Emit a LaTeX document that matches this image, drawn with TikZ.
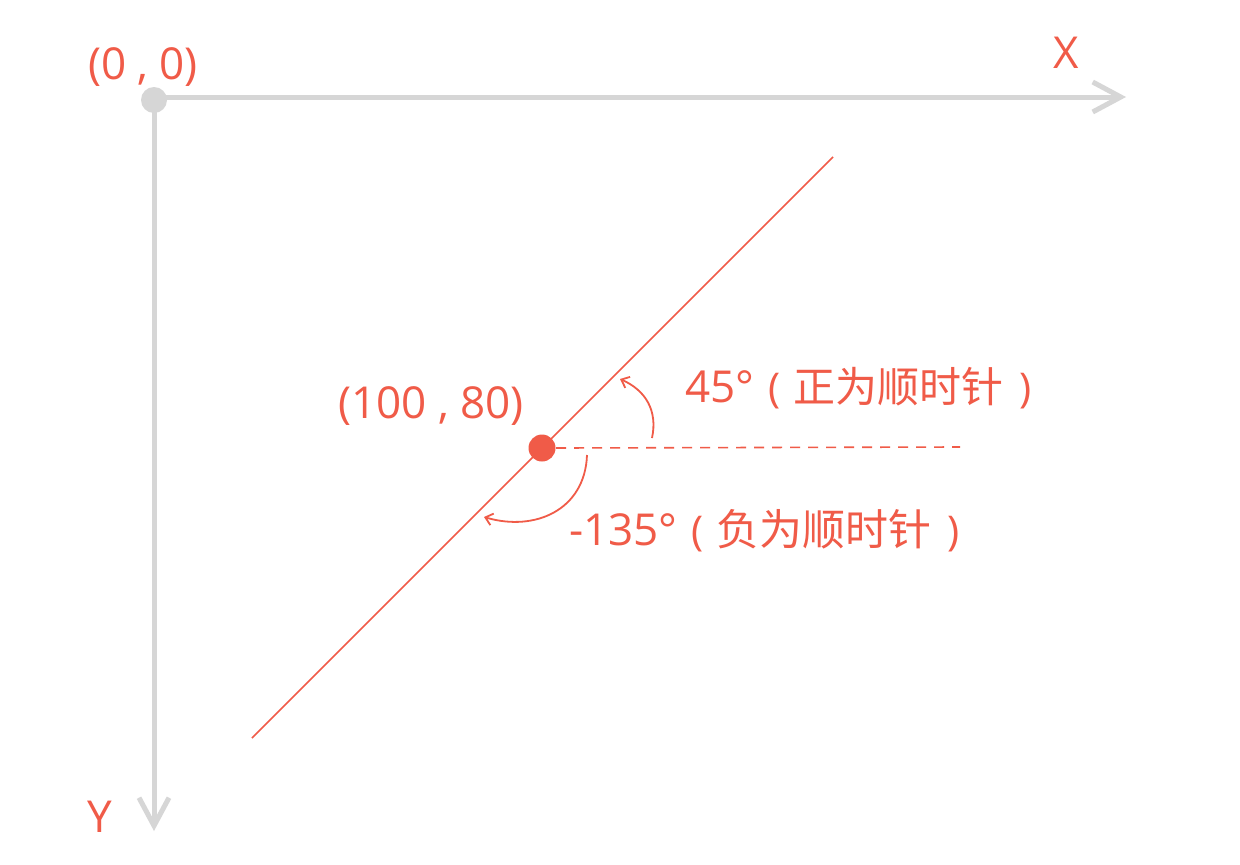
\documentclass[tikz,border=0pt]{standalone}
\usepackage{fontspec}
\setmainfont{Open Sans}
\newfontfamily\cjk{Noto Sans CJK SC}
\usetikzlibrary{arrows.meta}
\definecolor{rd}{HTML}{F05B48}
\definecolor{gr}{HTML}{D6D6D6}
\newcommand{\lp}{\hspace{14pt}{\fontsize{41}{46}\selectfont (}\hspace{13pt}}
\newcommand{\rp}{\hspace{16pt}{\fontsize{41}{46}\selectfont )}}
\begin{document}
\begin{tikzpicture}[x=1pt,y=-1pt,
  axis/.style={draw=gr,line width=5pt,-{Straight Barb[length=28pt,width=30pt,line width=5pt]}},
  lbl/.style={text=rd,font=\fontsize{44}{46}\selectfont,inner sep=0pt},
  rdline/.style={draw=rd,line width=1.6pt},
  angarrow/.style={draw=rd,line width=1.8pt,-{Straight Barb[length=7pt,width=12pt]}}]
\useasboundingbox (0,0) rectangle (1240,865);
\fill[white] (0,0) rectangle (1240,865);
\fill[gr] (154,100) circle (13);
\coordinate (O) at (154,97);
\coordinate (xend) at (1126,97);
\coordinate (yend) at (154,831);
\draw[axis] (O) -- (xend);
\draw[axis] (O) -- (yend);
\node[lbl] (origin) at (143,67) {(0 , 0)};
\node[lbl] (xlab) at (1066,53) {X};
\node[lbl] (ylab) at (100,817) {Y};
\coordinate (a) at (252,738);
\coordinate (b) at (833,157);
\draw[rdline] (a) -- (b);
\coordinate (P) at (542,448);
\coordinate (dend) at (960,447);
\draw[rdline,dash pattern=on 10pt off 8pt] ([xshift=14pt]P) -- (dend);
\fill[rd] (P) circle (13.5);
\node[lbl] (plab) at (431,406) {(100 , 80)};
\node[lbl,anchor=base west] (pos) at (685,402) {45°\lp{\cjk\fontsize{42}{46}\selectfont 正为顺时针}\rp};
\node[lbl,anchor=base west] (neg) at (569,545) {-135°\lp{\cjk\fontsize{43}{46}\selectfont 负为顺时针}\rp};
\coordinate (s1) at (652,438);
\coordinate (e1) at (620,379);
\draw[angarrow] (s1) .. controls (658,410) and (645,390) .. (e1);
\coordinate (s2) at (587,455);
\coordinate (e2) at (484,517);
\draw[angarrow] (s2) .. controls (585,510) and (535,532) .. (e2);
\end{tikzpicture}
\end{document}
